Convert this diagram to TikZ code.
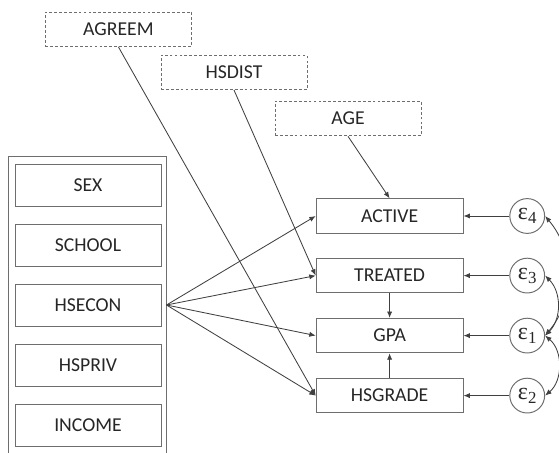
\documentclass[tikz,border=0pt]{standalone}
\usepackage{fontspec}
\setmainfont{Carlito}
\newfontfamily\grkfont{Liberation Serif}
\usepackage{amsmath}
\usepackage{tikz}
\usetikzlibrary{arrows.meta}
\usetikzlibrary{positioning}

\definecolor{linegray}{HTML}{404040}
\definecolor{boxgray}{HTML}{6E6E6E}
\definecolor{textgray}{HTML}{262626}

\newcommand{\epsvar}[1]{{\grkfont ε\raisebox{-0.35ex}{\fontsize{12}{13}\selectfont #1}}}

\begin{document}
\begin{tikzpicture}[
    >={Latex[length=1.6mm,width=1.3mm]},
    var/.style={draw=boxgray, line width=0.7pt, text=textgray,
        minimum width=3.67cm, minimum height=0.86cm, inner sep=0,
        font=\fontsize{14}{16}\selectfont},
    leftvar/.style={var, minimum width=3.65cm, minimum height=1.05cm},
    instr/.style={var, dashed, dash pattern=on 2pt off 1.5pt, minimum width=3.65cm},
    err/.style={circle, draw=boxgray, line width=0.7pt, text=textgray,
        minimum size=0.87cm, inner sep=0, font=\fontsize{17}{19}\selectfont},
    path/.style={->, draw=linegray, line width=0.6pt},
    cov/.style={<->, draw=linegray, line width=0.6pt}
  ]
  \useasboundingbox (0,0) rectangle (13.975,-11.325);

  % instruments
  \node [instr] (agreem) at (2.96,-0.73) {AGREEM};
  \node [instr] (hsdist) at (5.85,-1.81) {HSDIST};
  \node [instr, minimum height=0.87cm] (age) at (8.7,-2.96) {AGE};

  % exogenous block
  \node [draw=boxgray, line width=0.7pt, minimum width=3.95cm, minimum height=7.9cm,
         inner sep=0] (block) at (2.175,-7.85) {};
  \node [leftvar] (sex) at (2.2,-4.625) {SEX};
  \node [leftvar] (school) at (2.2,-6.125) {SCHOOL};
  \node [leftvar] (hsecon) at (2.2,-7.625) {HSECON};
  \node [leftvar] (hspriv) at (2.2,-9.125) {HSPRIV};
  \node [leftvar] (income) at (2.2,-10.625) {INCOME};

  % endogenous
  \node [var] (active) at (9.74,-5.4) {ACTIVE};
  \node [var] (treated) at (9.74,-6.89) {TREATED};
  \node [var] (gpa) at (9.74,-8.39) {GPA};
  \node [var] (hsgrade) at (9.74,-9.89) {HSGRADE};

  % errors
  \node [err] (e4) at (13.18,-5.4) {\epsvar{4}};
  \node [err] (e3) at (13.18,-6.89) {\epsvar{3}};
  \node [err] (e1) at (13.18,-8.39) {\epsvar{1}};
  \node [err] (e2) at (13.18,-9.89) {\epsvar{2}};

  \coordinate (src) at (block.east |- hsecon.east);

  \draw [path] (src) -- (active.west);
  \draw [path] (src) -- (treated.west);
  \draw [path] (src) -- (gpa.west);
  \draw [path] (src) -- (hsgrade.west);

  \draw [path] (agreem.south) -- (hsgrade.west);
  \draw [path] (hsdist.south) -- (treated.west);
  \draw [path] (age.south) -- (active.north);

  \draw [path] (treated) -- (gpa);
  \draw [path] (hsgrade) -- (gpa);

  \draw [path] (e4) -- (active);
  \draw [path] (e3) -- (treated);
  \draw [path] (e1) -- (gpa);
  \draw [path] (e2) -- (hsgrade);

  % covariances
  \draw [cov] (e1.east) to[bend right=40] (e4.east);
  \draw [cov] (e1.east) to[bend right=45] (e3.east);
  \draw [cov] (e1.east) to[bend left=50] (e2.east);
\end{tikzpicture}
\end{document}
